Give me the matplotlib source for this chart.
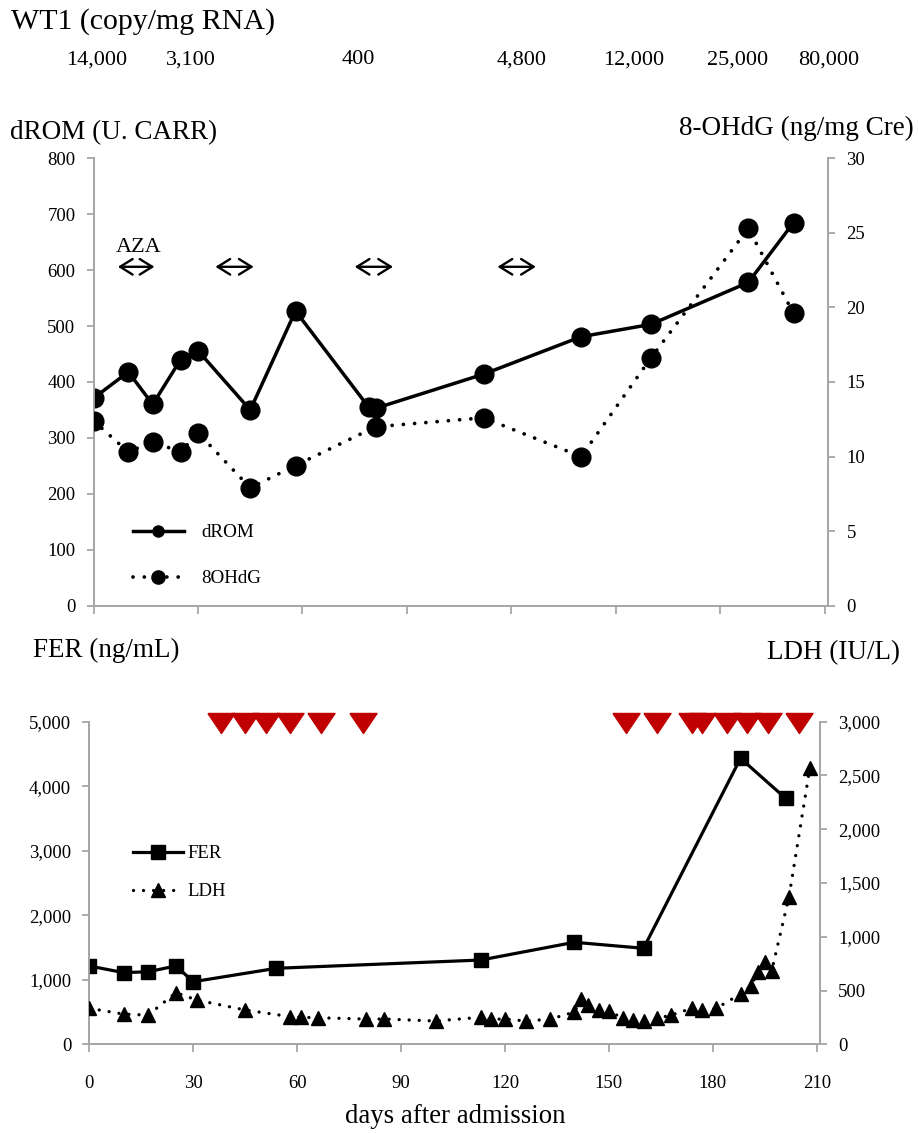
import numpy as np
import matplotlib
matplotlib.use("Agg")
import matplotlib.pyplot as plt
from matplotlib.lines import Line2D
from matplotlib.ticker import FuncFormatter, MultipleLocator
from matplotlib.transforms import blended_transform_factory

plt.rcParams['font.family'] = ['Liberation Serif', 'DejaVu Serif']

# WT1 (copy/mg RNA), written above the chart at the day it was measured
wt1_days = [1, 28, 76, 123, 155, 185, 211]
wt1_labels = ["14,000", "3,100", "400", "4,800", "12,000", "25,000", "80,000"]

# azacitidine (AZA) courses, days after admission
aza_start = [7, 35, 75, 116]
aza_end = [17.5, 46, 86, 127]

# top panel: oxidative stress markers
drom_days = [0, 10, 17, 25, 30, 45, 58, 79, 81, 112, 140, 160, 188, 201]
drom = [371, 418, 360, 440, 456, 350, 527, 355, 353, 414, 481, 503, 578, 685]
ohdg_days = [0, 10, 17, 25, 30, 45, 58, 81, 112, 140, 160, 188, 201]
ohdg = [12.4, 10.3, 11.0, 10.3, 11.6, 7.9, 9.4, 12.0, 12.6, 10.0, 16.6, 25.3, 19.6]

# bottom panel: ferritin and LDH
fer_days = [0, 10, 17, 25, 30, 54, 113, 140, 160, 188, 201]
fer = [1214, 1110, 1125, 1214, 970, 1178, 1306, 1581, 1488, 4433, 3813]
ldh_days = [0, 10, 17, 25, 31, 45, 58, 61, 66, 80, 85, 100, 113, 116, 120, 126, 133,
            140, 142, 144, 147, 150, 154, 157, 160, 164, 168, 174, 177, 181, 188, 191,
            193, 195, 197, 202, 208]
ldh = [335, 280, 272, 480, 412, 319, 257, 251, 247, 235, 235, 217, 251, 233, 235, 217, 233,
       300, 418, 365, 319, 310, 242, 226, 217, 242, 272, 335, 319, 335, 468, 542,
       675, 768, 684, 1373, 2567]

# transfusions (red marks)
transfusion_days = [38, 45, 51, 58, 67, 79, 155, 164, 174, 177, 184, 190, 196, 205]

W, H = 918, 1133
fig = plt.figure(figsize=(W / 100, H / 100), dpi=100)
spine_c = '#a6a6a6'
tick_fs = 13.5
title_fs = 19.5
dots = (0, (0.01, 3.0))


def style_axes(ax, axr):
    for a in (ax, axr):
        a.spines['top'].set_visible(False)
        for s in ('left', 'right', 'bottom'):
            a.spines[s].set_color(spine_c)
            a.spines[s].set_linewidth(1.3)
        a.tick_params(colors=spine_c, labelcolor='black', labelsize=tick_fs,
                      length=5, width=1.3, pad=8)
    ax.set_xlim(0, 211)
    ax.xaxis.set_major_locator(MultipleLocator(30))
    ax.tick_params(axis='x', length=6)


def px_axes(left, right, top, bottom):
    return fig.add_axes([left / W, 1 - bottom / H, (right - left) / W, (bottom - top) / H])


# ---- top panel
ax1 = px_axes(93.5, 828.4, 158.3, 605.7)
ax1r = ax1.twinx()
style_axes(ax1, ax1r)
ax1.set_ylim(0, 800)
ax1.yaxis.set_major_locator(MultipleLocator(100))
ax1r.set_ylim(0, 30)
ax1r.yaxis.set_major_locator(MultipleLocator(5))
ax1.tick_params(axis='x', labelbottom=False)

ax1.plot(drom_days, drom, '-', color='black', lw=2.5, marker='o', ms=13.5,
         label='dROM', zorder=3)
ax1r.plot(ohdg_days, ohdg, linestyle=dots, color='black', lw=2.7, marker='o', ms=13.5,
          dash_capstyle='round', label='8OHdG', zorder=3)

for s, e in zip(aza_start, aza_end):
    ax1.annotate('', xy=(e, 606), xytext=(s, 606),
                 arrowprops=dict(arrowstyle='<->, head_length=0.45, head_width=0.28',
                                 lw=1.7, color='black', shrinkA=0, shrinkB=0,
                                 mutation_scale=20))
ax1.text(13, 640, 'AZA', ha='center', va='center', fontsize=16)

ax1.legend(handles=[Line2D([], [], color='black', lw=2.5, marker='o', ms=8),
                    Line2D([], [], color='black', lw=2.7, linestyle=dots,
                           dash_capstyle='round', marker='o', ms=9.5)],
           labels=['dROM', '8OHdG'], loc='upper left',
           bbox_to_anchor=(133 / W, 1 - 524 / H), bbox_transform=fig.transFigure,
           frameon=False, fontsize=13.7, handlelength=2.68, handletextpad=0.9,
           labelspacing=1.51, borderpad=0, borderaxespad=0)

# ---- bottom panel
ax2 = px_axes(89.3, 820.2, 721.7, 1044.3)
ax2r = ax2.twinx()
style_axes(ax2, ax2r)
ax2.set_ylim(0, 5000)
ax2.yaxis.set_major_locator(MultipleLocator(1000))
ax2r.set_ylim(0, 3000)
ax2r.yaxis.set_major_locator(MultipleLocator(500))
comma = FuncFormatter(lambda v, _: f"{int(v):,}")
ax2.yaxis.set_major_formatter(comma)
ax2r.yaxis.set_major_formatter(comma)
ax2.tick_params(axis='x', pad=16)

ax2.plot(fer_days, fer, '-', color='black', lw=2.3, marker='s', ms=10.5, zorder=3)
ax2r.plot(ldh_days, ldh, linestyle=dots, color='black', lw=2.4, marker='^', ms=9.5,
          dash_capstyle='round', zorder=3)

tri = [(-1, 0.74), (1, 0.74), (0, -0.74), (-1, 0.74)]
ax2.plot(transfusion_days, [4975] * len(transfusion_days), linestyle='none',
         marker=tri, ms=19.5, color='#c00000', clip_on=False, zorder=4)

ax2.legend(handles=[Line2D([], [], color='black', lw=2.3, marker='s', ms=10),
                    Line2D([], [], color='black', lw=2.4, linestyle=dots,
                           dash_capstyle='round', marker='^', ms=9.5)],
           labels=['FER', 'LDH'], loc='upper left',
           bbox_to_anchor=(133 / W, 1 - 845 / H), bbox_transform=fig.transFigure,
           frameon=False, fontsize=13.5, handlelength=2.68, handletextpad=0.25,
           labelspacing=1.12, borderpad=0, borderaxespad=0)

ax2.set_xlabel('days after admission', fontsize=19.3, labelpad=9)

# ---- header texts
fig.text(11 / W, 1 - 22 / H, 'WT1 (copy/mg RNA)', fontsize=21.5, va='center')
wt1_tr = blended_transform_factory(ax1.transData, fig.transFigure)
for d, lab in zip(wt1_days, wt1_labels):
    ax1.text(d, 1 - 60 / H, lab, transform=wt1_tr, ha='center', va='center',
             fontsize=16, clip_on=False)

fig.text(10 / W, 1 - 133 / H, 'dROM (U. CARR)', fontsize=title_fs, va='center')
fig.text(914 / W, 1 - 128 / H, '8-OHdG (ng/mg Cre)', fontsize=title_fs, va='center',
         ha='right')
fig.text(33 / W, 1 - 650 / H, 'FER (ng/mL)', fontsize=title_fs, va='center')
fig.text(900 / W, 1 - 653 / H, 'LDH (IU/L)', fontsize=title_fs, va='center', ha='right')

fig.savefig('out.png', dpi=100)
